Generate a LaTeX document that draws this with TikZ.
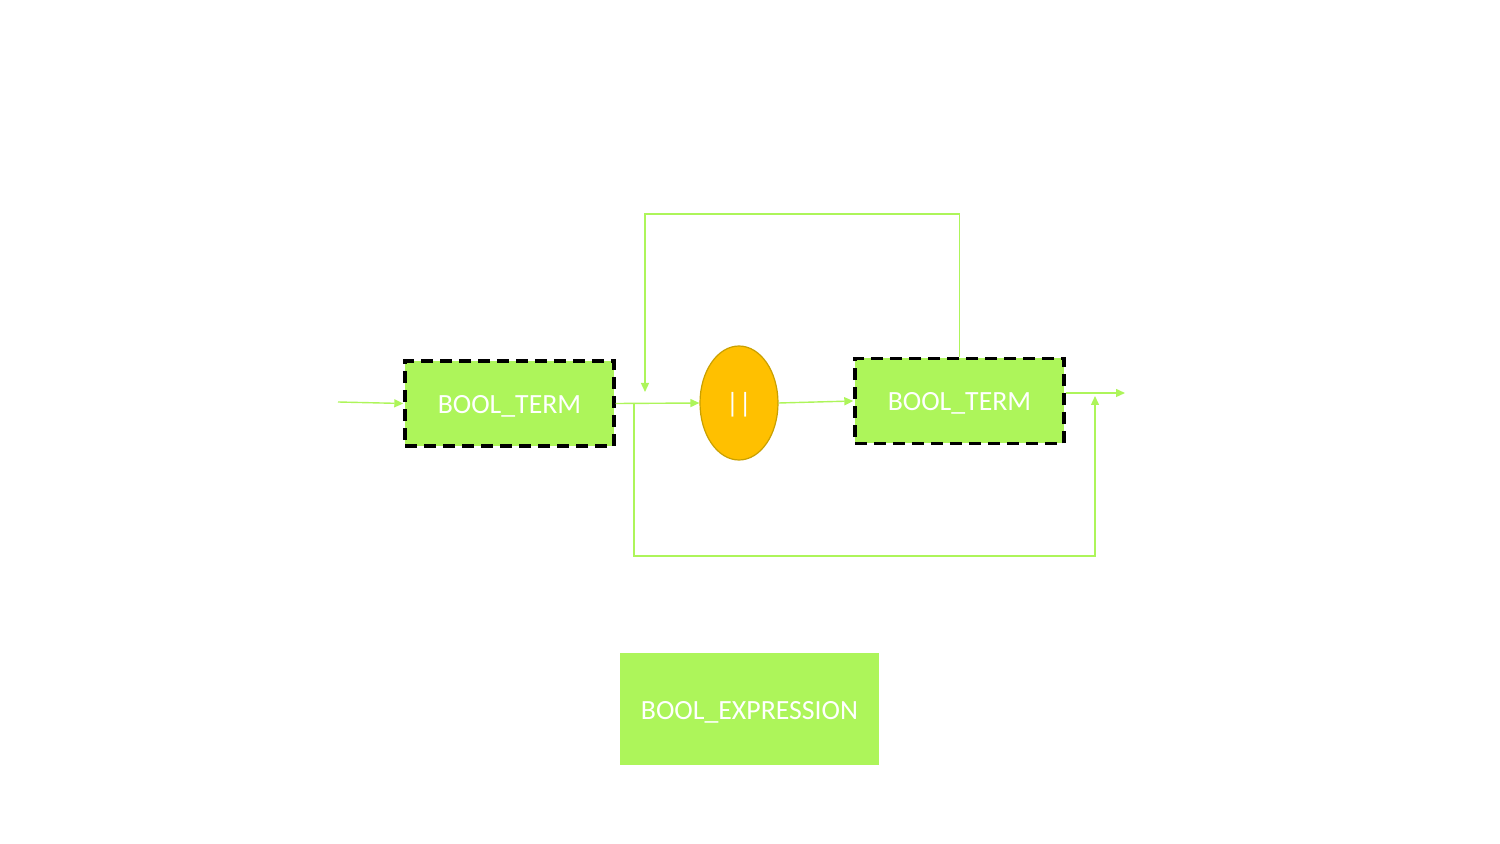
\documentclass[tikz,border=0pt]{standalone}
\usepackage{fontspec}
\setmainfont{Carlito}
\usetikzlibrary{arrows.meta,shapes.geometric}
\definecolor{lgreen}{HTML}{ADF55A}
\definecolor{orng}{HTML}{FFC000}
\definecolor{orngdark}{HTML}{C9A000}
\newcommand{\lowered}[1]{\raisebox{-1.5pt}[10pt][3pt]{#1}}
\tikzset{
  termbox/.style={draw=black, line width=1.7pt, dash pattern=on 6pt off 3.5pt, fill=lgreen,
    minimum width=104.5pt, minimum height=42.5pt, inner sep=0pt, text=white,
    font=\fontsize{13.9}{16}\selectfont},
  opnode/.style={ellipse, draw=orngdark, line width=0.6pt, fill=orng, minimum width=39pt,
    minimum height=57pt, inner sep=0pt, text=white, font=\fontsize{13.9}{16}\selectfont},
  exprbox/.style={fill=lgreen, minimum width=129.5pt, minimum height=56pt, inner sep=0pt,
    text=white, font=\fontsize{13.9}{16}\selectfont},
  conn/.style={draw=lgreen, line width=0.7pt, -{Triangle[length=4.5pt,width=4pt]}},
}
\begin{document}
\begin{tikzpicture}[x=0.5pt,y=-0.5pt]
\useasboundingbox (0,0) rectangle (1500,844);
\node[termbox] (t1) at (509.5,403.5) {\lowered{BOOL\_TERM}};
\node[opnode] (op) at (739,403) {\lowered{||}};
\node[termbox] (t2) at (959.5,401) {\lowered{BOOL\_TERM}};
\node[exprbox] (expr) at (749.5,709) {\lowered{BOOL\_EXPRESSION}};
\coordinate (in) at (338,402);
\coordinate (out) at (1125,393);
\coordinate (split) at (634,403);
\coordinate (backin) at (645,392);
\coordinate (fwdin) at (1095,396);
\draw[conn] (in) -- (t1.west);
\draw[conn] (t1.east) -- (op.west);
\draw[conn] (op.east) -- (t2.west);
\draw[conn] (t2.east |- out) -- (out);
\draw[conn] (t2.north) -- (959.5,214) -- (645,214) -- (backin);
\draw[conn] (split) -- (634,556) -- (1095,556) -- (fwdin);
\end{tikzpicture}
\end{document}
